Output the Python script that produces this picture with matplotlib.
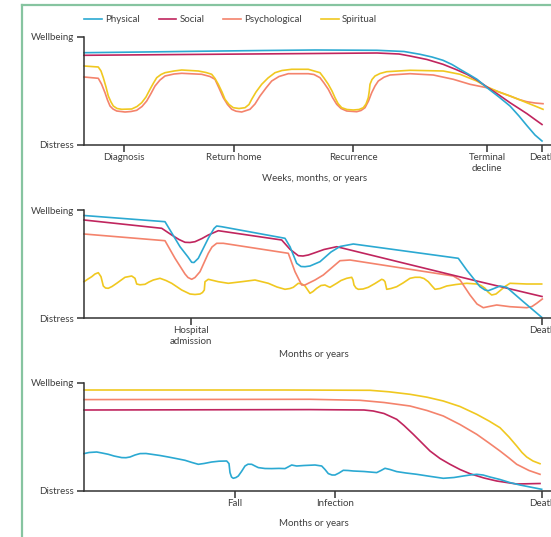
import matplotlib
matplotlib.use("Agg")
import matplotlib.pyplot as plt
from matplotlib.lines import Line2D

plt.rcParams['font.family'] = ['Lato', 'DejaVu Sans']

# colours of the four dimensions
C_PHYS = '#2ba9d2'
C_SOC = '#c0255e'
C_PSY = '#f4836c'
C_SPIR = '#f0c820'
TXT = '#3f3f3f'
AX = '#333333'

# time runs 0 (start) -> 458 (death); wellbeing runs 0 (distress) -> 108 (wellbeing)
T_END = 458
Y_TOP = 108

# ---------- panel 1: cancer ----------
p1_events = [40, 150, 269, 403, 458]
p1_labels = ['Diagnosis', 'Return home', 'Recurrence', 'Terminal\ndecline', 'Death']
p1_xlabel = 'Weeks, months, or years'

p1_phys_t = [0, 60, 120, 180, 231, 293, 320, 336, 348, 359, 368, 376, 385, 393, 403, 415, 426, 435, 443, 451, 458]
p1_phys_y = [92.3, 93, 93.8, 94.5, 95, 94.7, 93.5, 90.7, 88, 84.7, 80.5, 75.7, 70.5, 65.7, 57.3, 48, 39, 29, 19.3, 10, 4]

p1_soc_t = [0, 100, 231, 293, 315, 326, 343, 359, 372, 383, 393, 403, 415, 426, 435, 443, 451, 458]
p1_soc_y = [89.7, 90.5, 91.5, 92, 91, 89, 85.5, 80.7, 75.5, 70.7, 65, 58, 50, 42.3, 36.5, 31.3, 25.5, 20.5]

p1_spir_t = [0, 14.3, 17, 19.3, 22, 24.3, 27, 29.3, 33, 37.7, 47.7, 53, 57.7, 62, 66, 69.5, 72.7, 77, 81, 90, 97.7, 114.3,
             122, 127.7, 131, 134.3, 138, 141, 145, 149.3, 155, 161, 165, 167.7, 172, 177.7, 184, 191, 198, 207.7, 224.3,
             236, 240, 244.3, 248, 251, 254, 257.7, 263, 269.3, 275, 279.3, 282, 284.3, 285.3, 286, 288, 291, 296, 302.7,
             326, 359.3, 376, 392.7, 402.7, 415, 426, 435, 442.7, 451, 459]
p1_spir_y = [79, 78, 74, 67.3, 58, 49, 43, 39, 36.5, 35.7, 36, 38.5, 42.3, 48, 55.7, 62, 67.3, 70.5, 72.3, 74, 75, 74,
             72.5, 70.7, 66.5, 60.7, 53, 45.7, 40.5, 37.3, 36.5, 37.3, 40.5, 45.7, 53, 60.7, 67, 72.3, 74.5, 75.7, 75.7,
             72.3, 67, 60.7, 54, 47.3, 41.5, 37.3, 35.5, 35, 35.5, 37.3, 41, 47.3, 54, 60.7, 65.5, 69, 71.5, 73.3,
             74.7, 74, 70.7, 64, 58.3, 53, 49, 45.5, 42.3, 39, 35.7]

p1_psy_t = [0, 14.3, 17.5, 21, 23.5, 26, 29, 32.7, 41, 47, 52.7, 58, 62.7, 67, 71, 76, 81, 90, 97.7, 117.7,
            126, 131, 135, 139.3, 143.5, 147.7, 152, 157.7, 166, 171, 176, 182, 187.7, 195, 204.3, 224.3,
            230, 236, 240, 244.3, 248.5, 252.7, 257, 262.7, 272.7, 277, 281, 284.5, 287.7, 291, 294.3, 300, 306, 326,
            349.3, 369.3, 386, 402.7, 415, 426, 435, 442.7, 451, 459]
p1_psy_y = [68, 66.7, 61, 52.3, 45, 39, 36, 34, 33, 33.5, 34.7, 38.5, 44, 51.5, 59, 65, 69, 71, 71.7, 70.7,
            68.5, 65.7, 57, 47.3, 40.5, 35.7, 33.8, 33, 35.7, 41, 49, 57, 64, 68.5, 71.3, 71.3,
            70.5, 67.3, 62, 55.7, 47.5, 40.7, 36.5, 34, 33.3, 34.5, 37.3, 44, 52.3, 59, 64, 67.8, 70, 71.3,
            70, 65.7, 60.7, 57.3, 53, 49, 45.5, 43.3, 42, 41.3]

# ---------- panel 2: organ failure ----------
p2_events = [107, 458]
p2_labels = ['Hospital\nadmission', 'Death']
p2_xlabel = 'Months or years'

p2_phys_t = [0, 81, 86, 96, 104, 107.7, 110, 114.3, 124.3, 130, 132.7, 137.7, 201, 206, 212.7, 217, 221, 226,
             236, 247, 256, 269.3, 374.3, 382.7, 396, 401, 404.3, 410, 416, 422.7, 439.3, 457.7]
p2_phys_y = [102.5, 96.3, 88, 71.3, 61, 55.7, 55.5, 59.7, 79.7, 89.5, 92, 91.3, 79.7, 71.3, 54.7, 51.5, 51.3, 52,
             56.3, 66, 71.5, 74, 59.7, 48, 31.3, 28, 27.3, 29.5, 32, 30.7, 16.3, 0.7]

p2_soc_t = [0, 77.7, 87.7, 95, 101, 106, 111, 118, 124.3, 134.3, 197.7, 206, 214.3, 219, 224.3, 231, 240,
            252.7, 259.3, 392.7, 458]
p2_soc_y = [98, 89.7, 83, 78.5, 75.7, 75.5, 76.3, 79.5, 83, 87.3, 78, 68.7, 62.3, 62, 63, 65.3, 68.5,
            71.3, 69.7, 37, 21.5]

p2_psy_t = [0, 81, 91, 101, 104, 107.7, 111, 116, 124.3, 128, 132.7, 139.3, 204.3, 211, 217.7, 221,
            224.3, 231, 239.3, 256, 266, 369.3, 376, 386, 393, 399.3, 405, 412.7, 426, 442.7, 448, 452.7, 458.3]
p2_psy_y = [84, 77.3, 59.7, 44, 40.5, 38.7, 40.5, 46.3, 64.7, 71, 74.7, 74.7, 64.7, 46.3, 33, 33, 34.7, 38, 43,
            57.3, 58, 42, 38, 23, 14, 10.3, 11.5, 13, 11.3, 10.3, 11.5, 14.7, 19]

p2_spir_t = [0, 4, 7.7, 11, 14.3, 17, 19.3, 21.5, 24.3, 28, 32.7, 41, 47.7, 51, 52.7, 56, 61, 65, 69.3, 76,
             82, 87.7, 97.7, 106, 111, 116, 118.5, 120.3, 121, 124.3, 134.3, 144.3, 157.7, 171, 184.3, 193,
             201, 206, 209.3, 214.3, 218, 221, 226, 229, 232.7, 237, 241, 244, 246, 249, 252.7, 257, 262.7,
             267.7, 269, 270, 272, 274.3, 279, 284.3, 291, 297.7, 299.5, 301, 302.7, 307, 312.7, 319, 326, 331,
             336, 340, 344.3, 348, 351, 356, 362.7, 372, 382.7, 392.7, 397, 401, 404, 407.7, 412, 416, 421,
             426, 442.7, 457.7]
p2_spir_y = [36.3, 39, 41.3, 44, 45.3, 41.3, 32, 30, 29.7, 31.5, 34.7, 40.7, 42, 39.7, 34, 33.2, 33.7, 36, 38,
             39.7, 37.5, 34.7, 28, 24, 23.5, 24, 25.5, 28, 36.3, 38.7, 36.3, 34.7, 36.3, 38, 34.7, 31,
             28.7, 29.5, 30.7, 34.7, 34, 32, 24.7, 26.5, 29.7, 32.5, 33, 31.5, 30.7, 32.5, 34.7, 37.5, 39.7,
             40.7, 38, 33, 30, 28.7, 29, 30.7, 34.5, 38.7, 38, 36.3, 28.7, 29.5, 31.3, 35, 39.7, 40.7,
             40.7, 39.5, 36.3, 32, 28.7, 29.5, 32, 33.5, 34.7, 34, 32.5, 29.7, 26, 23, 24, 27.3, 31.5,
             34.7, 34, 34]

# ---------- panel 3: frailty ----------
p3_events = [151, 251, 458]
p3_labels = ['Fall', 'Infection', 'Death']
p3_xlabel = 'Months or years'

p3_spir_t = [0, 200, 286, 305, 326, 343, 359.3, 376, 392.7, 405, 416, 425, 432.7, 438, 442.7, 449, 456]
p3_spir_y = [101, 101, 100.7, 99.2, 96.7, 93.8, 90, 84.5, 76.7, 70, 63.3, 54, 45, 38.5, 34, 30, 27.3]

p3_psy_t = [0, 226, 276, 300, 326, 343, 359.3, 376, 392.7, 405, 416, 425, 432.7, 445, 456]
p3_psy_y = [91.4, 91.7, 90.7, 88.5, 85, 80.5, 75, 66.5, 56.7, 48, 40, 33, 26.7, 20.5, 16.7]

p3_soc_t = [0, 226, 280, 289.3, 300, 312.7, 320, 329.3, 338, 346, 356, 366, 376, 386, 400, 412.7, 432.7, 456]
p3_soc_y = [81, 81.4, 81, 80, 77.5, 71.7, 65.5, 56.7, 48, 40, 32.5, 26.7, 21.5, 17.3, 13, 10, 7, 7.5]

p3_phys_t = [0, 5, 12.7, 18, 24.3, 30, 37.7, 42, 46, 51, 56, 62, 67.7, 76, 84.3, 92, 101, 108, 114.3, 120,
             127.7, 135, 142.7, 145, 146, 147.5, 149.3, 152, 154.3, 157.5, 161, 164, 167.7, 171, 174.3, 181,
             187.7, 195, 201, 204, 207.7, 210, 212.7, 220, 231, 237.7, 241, 244.3, 248, 251, 255, 259.3,
             264, 269.3, 280, 292.7, 297, 301, 306, 312.7, 322, 332.7, 345, 359.3, 370, 379.3, 386, 392.7,
             399, 406, 416, 426, 436, 446, 457.7]
p3_phys_y = [37.4, 38.5, 39, 38, 36.7, 35, 33.4, 33.3, 34, 36, 37.4, 37.5, 36.7, 35.5, 34, 32.5, 30.7, 28.5, 26.7, 27.5,
             29, 29.8, 30, 27.4, 18.4, 14, 12.7, 13.5, 15, 19.5, 25, 26.8, 26.7, 25, 23.4, 22.5,
             22.4, 22.6, 22.4, 24, 26, 25.5, 25, 25.5, 26, 25, 21.5, 17.4, 16, 16, 18, 20.7,
             20.5, 20, 19.5, 18.4, 20.5, 22.7, 21.5, 19.4, 18, 16.7, 14.8, 12.7, 13.5, 15, 16, 16.7,
             16, 14, 11.5, 8.4, 6, 4, 1.7]

panels = [
    dict(top=37, events=p1_events, labels=p1_labels, xlabel=p1_xlabel, lab_y=-0.27,
         series=[(p1_psy_t, p1_psy_y, C_PSY), (p1_spir_t, p1_spir_y, C_SPIR),
                 (p1_soc_t, p1_soc_y, C_SOC), (p1_phys_t, p1_phys_y, C_PHYS)]),
    dict(top=210, events=p2_events, labels=p2_labels, xlabel=p2_xlabel, lab_y=-0.30,
         series=[(p2_spir_t, p2_spir_y, C_SPIR), (p2_psy_t, p2_psy_y, C_PSY),
                 (p2_soc_t, p2_soc_y, C_SOC), (p2_phys_t, p2_phys_y, C_PHYS)]),
    dict(top=383, events=p3_events, labels=p3_labels, xlabel=p3_xlabel, lab_y=-0.26,
         series=[(p3_spir_t, p3_spir_y, C_SPIR), (p3_psy_t, p3_psy_y, C_PSY),
                 (p3_soc_t, p3_soc_y, C_SOC), (p3_phys_t, p3_phys_y, C_PHYS)]),
]

W, H = 551, 537
fig = plt.figure(figsize=(W / 100, H / 100), dpi=100)

# green frame of the figure box
fig.add_artist(Line2D([22 / W, 22 / W], [0, 1 - 5 / H], color='#86c4a0', lw=1.6))
fig.add_artist(Line2D([22 / W, 1], [1 - 5 / H, 1 - 5 / H], color='#86c4a0', lw=1.6))

for p in panels:
    ax = fig.add_axes([84 / W, 1 - (p['top'] + Y_TOP) / H, 470 / W, Y_TOP / H])
    for t, y, c in p['series']:
        ax.plot(t, y, color=c, lw=1.2, solid_joinstyle='round', clip_on=False)
    ax.set_xlim(0, 470)
    ax.set_ylim(0, Y_TOP)
    for s in ['top', 'right']:
        ax.spines[s].set_visible(False)
    for s in ['left', 'bottom']:
        ax.spines[s].set_color(AX)
        ax.spines[s].set_linewidth(1.1)
    ax.set_yticks([0, Y_TOP])
    ax.set_yticklabels(['Distress', 'Wellbeing'])
    ax.set_xticks(p['events'])
    ax.set_xticklabels(p['labels'], linespacing=1.3)
    ax.tick_params(axis='both', colors=AX, labelcolor=TXT, labelsize=7, width=1.1, length=5, pad=2)
    ax.tick_params(axis='x', pad=1)
    ax.set_xlabel(p['xlabel'], fontsize=7, color=TXT)
    ax.xaxis.set_label_coords(0.49, p['lab_y'])

handles = [Line2D([], [], color=C_PHYS, lw=1.2), Line2D([], [], color=C_SOC, lw=1.2),
           Line2D([], [], color=C_PSY, lw=1.2), Line2D([], [], color=C_SPIR, lw=1.2)]
leg = fig.legend(handles, ['Physical', 'Social', 'Psychological', 'Spiritual'], ncol=4, frameon=False,
                 loc='center left', bbox_to_anchor=(84 / W, 1 - 20 / H), fontsize=7,
                 handlelength=1.8, handletextpad=0.35, columnspacing=1.95, borderaxespad=0, borderpad=0)
for txt in leg.get_texts():
    txt.set_color(TXT)

fig.savefig('out.png', dpi=100)
